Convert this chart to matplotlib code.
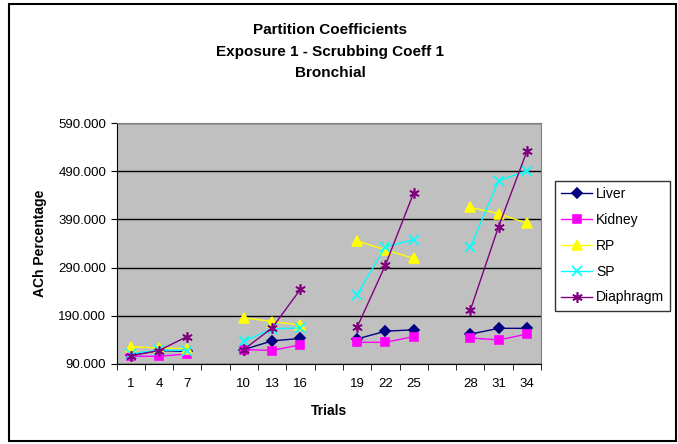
import matplotlib
matplotlib.use("Agg")
import matplotlib.pyplot as plt
import numpy as np
from matplotlib.patches import Rectangle

categories = ["1", "4", "7", "", "10", "13", "16", "", "19", "22", "25", "", "28", "31", "34"]
nan = np.nan
liver = [108, 118, 116, nan, 120, 138, 143, nan, 142, 158, 161, nan, 152, 164, 164]
kidney = [106, 106, 111, nan, 120, 118, 130, nan, 135, 135, 147, nan, 144, 140, 152]
rp = [126, 123, 122, nan, 186, 178, 171, nan, 345, 327, 309, nan, 415, 402, 382]
sp = [111, 119, 118, nan, 137, 163, 165, nan, 234, 333, 348, nan, 332, 470, 491]
diaphragm = [107, 118, 147, nan, 120, 165, 245, nan, 166, 295, 445, nan, 201, 375, 531]

series = [
    ("Liver", liver, "#000080", "D", 5, "#000080"),
    ("Kidney", kidney, "#FF00FF", "s", 5.5, "#FF00FF"),
    ("RP", rp, "#FFFF00", "^", 7, "#FFFF00"),
    ("SP", sp, "#00FFFF", "x", 7, "#00FFFF"),
    ("Diaphragm", diaphragm, "#800080", (6, 2, 0), 7.5, "#800080"),
]

fig = plt.figure(figsize=(6.78, 4.44), dpi=100)
plt.rcParams['font.family'] = ['Liberation Sans', 'DejaVu Sans']

# outer chart border
fig.patches.append(Rectangle((9/678, 1-441/444), (676-9)/678, (441-4)/444,
                             transform=fig.transFigure, fill=False,
                             edgecolor="black", linewidth=1.5))

ax = fig.add_axes([116.5/678, 1-364/444, (541-116.5)/678, (364-123)/444])
ax.set_facecolor("#C0C0C0")

x = np.arange(len(categories))
for name, vals, col, mk, ms, mfc in series:
    ax.plot(x, vals, color=col, marker=mk, markersize=ms, markerfacecolor=mfc,
            markeredgecolor=col, linewidth=1.0, label=name, markeredgewidth=1.2)

ax.set_xlim(-0.5, len(categories) - 0.5)
ax.set_ylim(90, 590)
yt = np.arange(90, 591, 100)
ax.set_yticks(yt)
ax.set_yticklabels([f"{v:.3f}" for v in yt], fontsize=9.5)
ax.grid(axis="y", color="black", linewidth=1)
ax.set_axisbelow(True)

ax.set_xticks(x)
ax.set_xticklabels(categories, fontsize=9.5)
ax.tick_params(axis="x", which="major", length=0, pad=10)
ax.set_xticks(np.arange(-0.5, len(categories)), minor=True)
ax.tick_params(axis="x", which="minor", length=4, direction="out")
ax.tick_params(axis="y", length=4, direction="out")

for s in ["top", "right"]:
    ax.spines[s].set_color("#808080")
for s in ["left", "bottom"]:
    ax.spines[s].set_color("black")

ax.set_xlabel("Trials", fontsize=10, fontweight="bold", labelpad=10)
ax.set_ylabel("ACh Percentage", fontsize=10, fontweight="bold", labelpad=8)

fig.text(330/678, 1-30/444, "Partition Coefficients", ha="center", va="center",
         fontsize=11, fontweight="bold")
fig.text(330/678, 1-52/444, "Exposure 1 - Scrubbing Coeff 1", ha="center", va="center",
         fontsize=11, fontweight="bold")
fig.text(330/678, 1-73/444, "Bronchial", ha="center", va="center",
         fontsize=11, fontweight="bold")

leg = fig.legend(loc="upper left", bbox_to_anchor=(555/678, 1-181/444),
                 fontsize=10, frameon=True, fancybox=False, edgecolor="black",
                 borderpad=0.45, labelspacing=0.85, handlelength=2.2, handletextpad=0.3,
                 borderaxespad=0)
leg.get_frame().set_linewidth(1)

fig.savefig("out.png", dpi=100)
